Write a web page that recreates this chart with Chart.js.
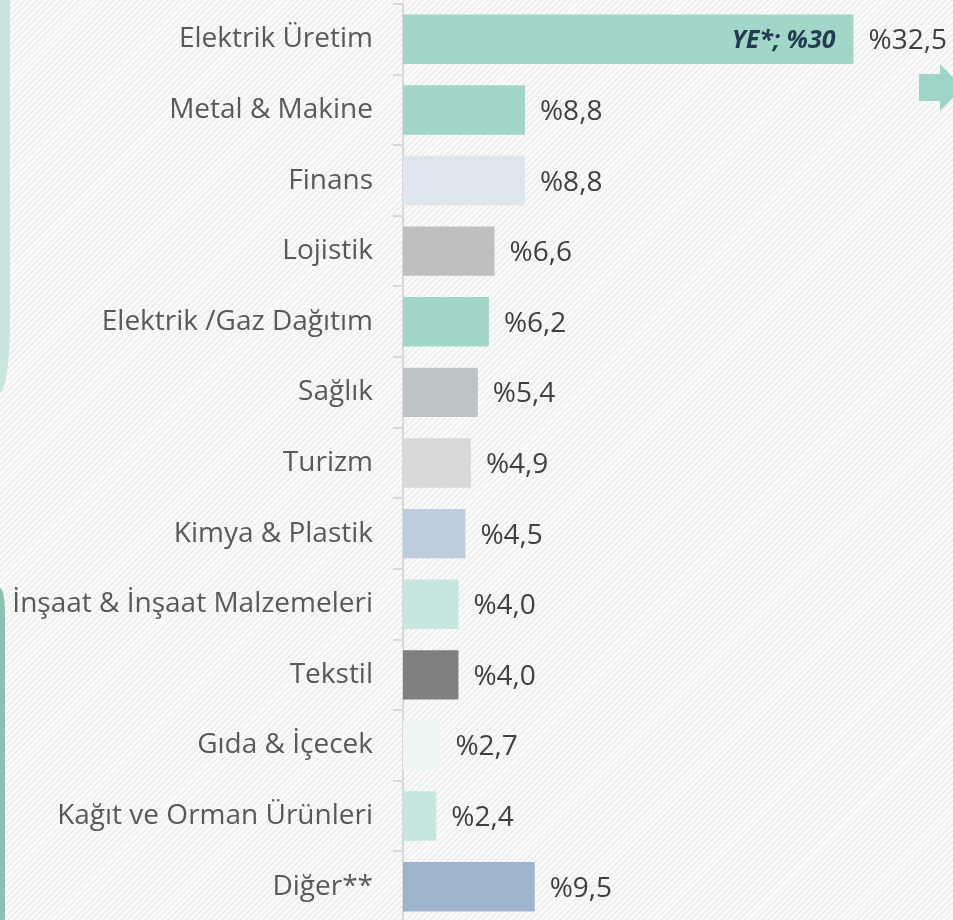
<!DOCTYPE html>
<html>
<head>
<meta charset="utf-8">
<script src="https://cdn.jsdelivr.net/npm/chart.js@4.4.0/dist/chart.umd.min.js"></script>
<style>
  html, body { margin: 0; padding: 0; overflow: hidden; }
  body {
    width: 953px; height: 920px; position: relative;
    background: repeating-linear-gradient(135deg, #efefef 0 2px, #fbfbfb 2px 4.2px);
  }
  #wrap { position: absolute; left: 0; top: 0; width: 953px; height: 922px; }
  .panelTop {
    position: absolute; left: 0; top: 0; width: 10px; height: 392px;
    background: #c8e6df; border-bottom-right-radius: 10px 70px;
  }
  .panelBottom {
    position: absolute; left: 0; top: 588px; width: 5px; height: 340px;
    background: #8cc0b4; border-top-right-radius: 5px 25px;
  }
  .arrow {
    position: absolute; left: 919px; top: 64px; width: 44px; height: 47px;
    background: #9fd5c8;
    clip-path: polygon(0 10px, 21px 10px, 21px 0, 44px 23.5px, 21px 47px, 21px 37px, 0 37px);
  }
</style>
</head>
<body>
<div class="panelTop"></div>
<div class="panelBottom"></div>
<div id="wrap"><canvas id="sectorChart"></canvas></div>
<div class="arrow"></div>
<script>
/* ================= DATA ================= */
const sectors = [
  "Elektrik Üretim", "Metal & Makine", "Finans", "Lojistik",
  "Elektrik /Gaz Dağıtım", "Sağlık", "Turizm", "Kimya & Plastik",
  "İnşaat & İnşaat Malzemeleri", "Tekstil", "Gıda & İçecek",
  "Kağıt ve Orman Ürünleri", "Diğer**"
];
const shares = [32.5, 8.8, 8.8, 6.6, 6.2, 5.4, 4.9, 4.5, 4.0, 4.0, 2.7, 2.4, 9.5];
const innerNotes = ["YE*; %30", "", "", "", "", "", "", "", "", "", "", "", ""];
const barColors = [
  "#a2d6c9", "#a2d6c9", "#dfe6ee", "#bfbfbf", "#a2d6c9", "#bdc4c6",
  "#d9d9d9", "#bdcddd", "#c6e6df", "#7f7f7f", "#eef6f3", "#c6e6df", "#9db4cc"
];

/* ================= LABEL PLUGIN ================= */
const barLabels = {
  id: "barLabels",
  afterDatasetsDraw(chart) {
    const ctx = chart.ctx;
    const meta = chart.getDatasetMeta(0);
    ctx.save();
    ctx.textBaseline = "middle";
    meta.data.forEach((bar, i) => {
      ctx.font = "28px 'Open Sans'";
      ctx.fillStyle = "#404040";
      ctx.textAlign = "left";
      ctx.fillText("%" + shares[i].toFixed(1).replace(".", ","), bar.x + 15, bar.y + 2);
      if (innerNotes[i]) {
        ctx.font = "italic bold 25px 'Open Sans'";
        ctx.fillStyle = "#243c52";
        ctx.textAlign = "right";
        ctx.fillText(innerNotes[i], bar.x - 18, bar.y + 2);
      }
    });
    ctx.restore();
  }
};

/* ================= CHART ================= */
new Chart(document.getElementById("sectorChart"), {
  type: "bar",
  data: {
    labels: sectors,
    datasets: [{
      data: shares,
      backgroundColor: barColors,
      barPercentage: 0.7,
      categoryPercentage: 1
    }]
  },
  options: {
    indexAxis: "y",
    responsive: true,
    maintainAspectRatio: false,
    animation: false,
    layout: { padding: { top: 4, right: 51, bottom: 0, left: 0 } },
    plugins: { legend: { display: false }, tooltip: { enabled: false } },
    scales: {
      x: { display: false, min: 0, max: 36 },
      y: {
        afterFit: s => { s.width = 403; s.paddingTop = 0; s.paddingBottom = 0; },
        grid: { drawOnChartArea: false, tickLength: 10, color: "#d9d9d9", lineWidth: 2 },
        border: { color: "#d9d9d9", width: 2 },
        ticks: { color: "#595959", padding: 20, font: { family: "Open Sans", size: 28 } }
      }
    }
  },
  plugins: [barLabels]
});
</script>
</body>
</html>
